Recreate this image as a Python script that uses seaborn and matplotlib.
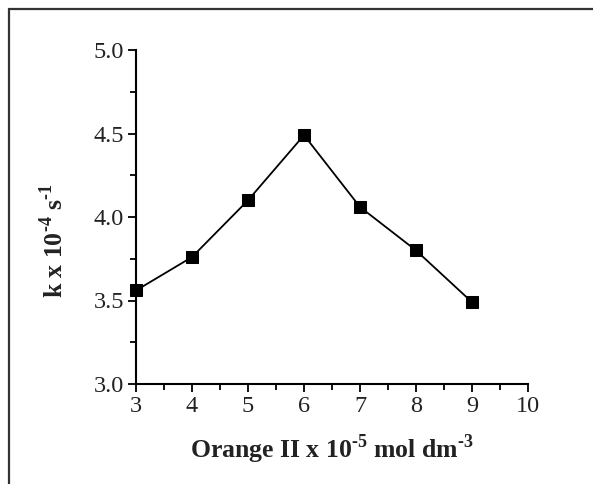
import matplotlib
matplotlib.use("Agg")
import matplotlib.pyplot as plt
import seaborn as sns
import pandas as pd
from matplotlib.ticker import MultipleLocator
from matplotlib.lines import Line2D

# dados
orange_conc = [3, 4, 5, 6, 7, 8, 9]
k_values = [3.56, 3.76, 4.10, 4.49, 4.06, 3.80, 3.49]
x_ticks = [3, 4, 5, 6, 7, 8, 9, 10]
y_ticks = [3.0, 3.5, 4.0, 4.5, 5.0]

df = pd.DataFrame({'conc': orange_conc, 'k': k_values})

sns.set_style('ticks')
plt.rcParams['font.family'] = ['Liberation Serif', 'DejaVu Serif']
plt.rcParams['mathtext.fontset'] = 'custom'
plt.rcParams['mathtext.rm'] = 'Liberation Serif'
plt.rcParams['mathtext.bf'] = 'Liberation Serif:bold'

fig = plt.figure(figsize=(5.93, 4.84), dpi=100)
ax = fig.add_axes([136 / 593, 1 - 384 / 484, (528 - 136) / 593, (384 - 50) / 484])

sns.lineplot(data=df, x='conc', y='k', ax=ax, color='black', linewidth=1.3,
             marker='s', markersize=8.5, markeredgecolor='black', markerfacecolor='black')

ax.set_xlim(3, 10)
ax.set_ylim(3.0, 5.0)
ax.set_xticks(x_ticks)
ax.set_yticks(y_ticks)
ax.set_xticklabels([str(t) for t in x_ticks])
ax.set_yticklabels([f'{t:.1f}' for t in y_ticks])
ax.xaxis.set_minor_locator(MultipleLocator(0.5))
ax.yaxis.set_minor_locator(MultipleLocator(0.25))
ax.tick_params(which='major', direction='out', length=6, width=1.3, labelsize=17.5, color='black', labelcolor='#222222', pad=2.5)
ax.tick_params(which='minor', direction='out', length=4, width=1.3, color='black')

for s in ['left', 'bottom']:
    ax.spines[s].set_linewidth(1.5)
    ax.spines[s].set_color('black')
sns.despine(ax=ax)
for line in ax.get_lines():
    line.set_clip_on(False)

ax.set_xlabel('Orange II x 10$^{\\mathbf{\u20105}}$ mol dm$^{\\mathbf{\u20103}}$', fontsize=18.5, fontweight='bold', labelpad=11, color='#222222')
ax.set_ylabel('k x 10$^{\\mathbf{\u20104}}$ s$^{\\mathbf{\u20101}}$', fontsize=18.5, fontweight='bold', color='#222222')
ax.yaxis.set_label_coords(-0.173, 0.43)

# moldura da figura (só esquerda e topo aparecem)
fig.add_artist(Line2D([9 / 593, 9 / 593], [0, 1 - 9 / 484], transform=fig.transFigure, color='#333333', linewidth=1.6))
fig.add_artist(Line2D([9 / 593, 1], [1 - 9 / 484, 1 - 9 / 484], transform=fig.transFigure, color='#333333', linewidth=1.6))

fig.savefig('out.png', dpi=100)
